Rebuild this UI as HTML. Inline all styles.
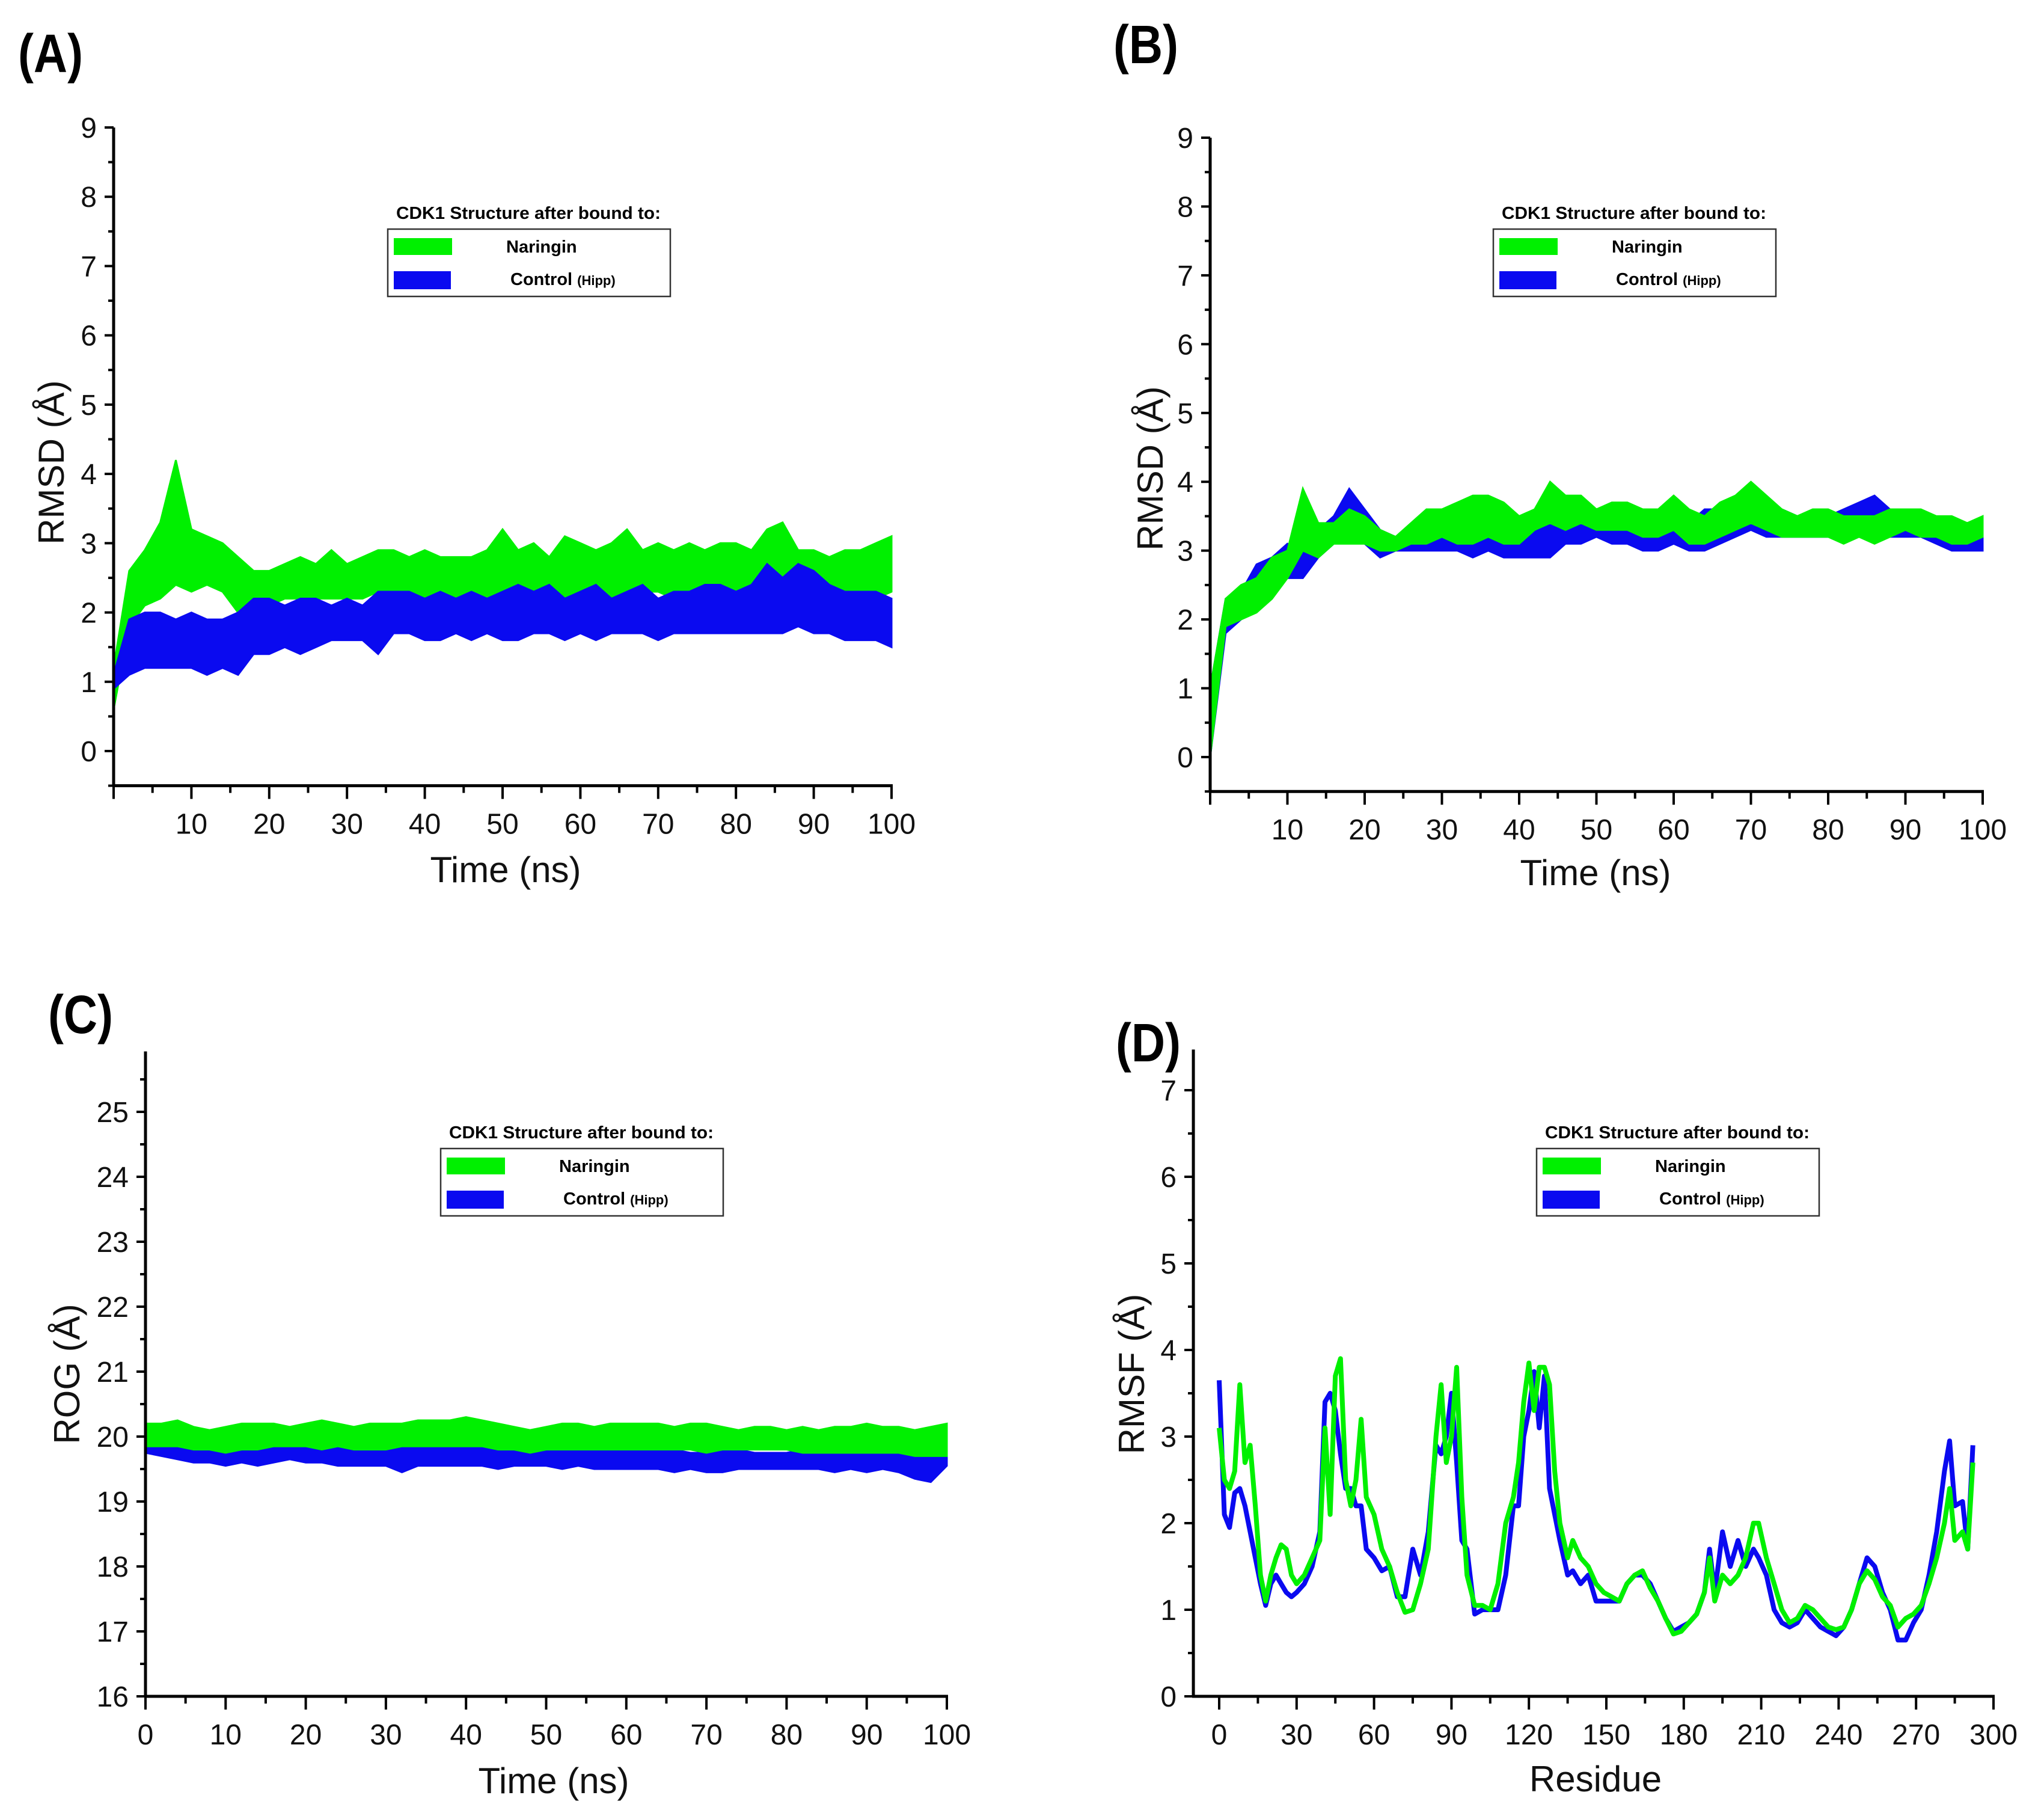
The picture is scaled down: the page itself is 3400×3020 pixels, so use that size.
<!DOCTYPE html>
<html><head><meta charset="utf-8"><style>
html,body{margin:0;padding:0;background:#fff;}
svg{display:block;font-family:"Liberation Sans",sans-serif;}
</style></head><body>
<svg id="fig" width="3400" height="3020" viewBox="0 0 3400 3020" xmlns="http://www.w3.org/2000/svg"></svg>
<script>
// ---------- Panel A data (RMSD, t = 0..100 step 2) ----------
const timeA = [0,2,4,6,8,10,12,14,16,18,20,22,24,26,28,30,32,34,36,38,40,42,44,46,48,50,52,54,56,58,60,62,64,66,68,70,72,74,76,78,80,82,84,86,88,90,92,94,96,98,100];
const narA_hi = [1.2,2.6,2.9,3.3,4.2,3.2,3.1,3.0,2.8,2.6,2.6,2.7,2.8,2.7,2.9,2.7,2.8,2.9,2.9,2.8,2.9,2.8,2.8,2.8,2.9,3.2,2.9,3.0,2.8,3.1,3.0,2.9,3.0,3.2,2.9,3.0,2.9,3.0,2.9,3.0,3.0,2.9,3.2,3.3,2.9,2.9,2.8,2.9,2.9,3.0,3.1];
const narA_lo = [0.6,1.8,2.1,2.2,2.4,2.3,2.4,2.3,2.0,2.0,2.1,2.2,2.2,2.2,2.2,2.2,2.2,2.3,2.3,2.3,2.2,2.3,2.2,2.2,2.2,2.1,2.2,2.3,2.2,2.2,2.3,2.3,2.2,2.3,2.3,2.3,2.2,2.3,2.3,2.3,2.3,2.3,2.3,2.3,2.4,2.3,2.2,2.2,2.3,2.2,2.3];
const ctlA_hi = [1.1,1.9,2.0,2.0,1.9,2.0,1.9,1.9,2.0,2.2,2.2,2.1,2.2,2.2,2.1,2.2,2.1,2.3,2.3,2.3,2.2,2.3,2.2,2.3,2.2,2.3,2.4,2.3,2.4,2.2,2.3,2.4,2.2,2.3,2.4,2.2,2.3,2.3,2.4,2.4,2.3,2.4,2.7,2.5,2.7,2.6,2.4,2.3,2.3,2.3,2.2];
const ctlA_lo = [0.9,1.1,1.2,1.2,1.2,1.2,1.1,1.2,1.1,1.4,1.4,1.5,1.4,1.5,1.6,1.6,1.6,1.4,1.7,1.7,1.6,1.6,1.7,1.6,1.7,1.6,1.6,1.7,1.7,1.6,1.7,1.6,1.7,1.7,1.7,1.6,1.7,1.7,1.7,1.7,1.7,1.7,1.7,1.7,1.8,1.7,1.7,1.6,1.6,1.6,1.5];
// ---------- Panel B data ----------
const narB_hi = [1.0,2.3,2.5,2.6,2.9,3.0,3.9,3.4,3.4,3.6,3.5,3.3,3.2,3.4,3.6,3.6,3.7,3.8,3.8,3.7,3.5,3.6,4.0,3.8,3.8,3.6,3.7,3.7,3.6,3.6,3.8,3.6,3.5,3.7,3.8,4.0,3.8,3.6,3.5,3.6,3.6,3.5,3.5,3.5,3.6,3.6,3.6,3.5,3.5,3.4,3.5];
const narB_lo = [0.0,1.9,2.0,2.1,2.3,2.6,3.0,2.9,3.1,3.1,3.1,3.0,3.0,3.1,3.1,3.2,3.1,3.1,3.2,3.1,3.1,3.3,3.4,3.3,3.4,3.3,3.3,3.3,3.2,3.2,3.3,3.1,3.1,3.2,3.3,3.4,3.3,3.2,3.2,3.2,3.2,3.1,3.2,3.1,3.2,3.3,3.2,3.2,3.1,3.1,3.2];
const ctlB_hi = [1.0,2.3,2.4,2.8,2.9,3.1,3.0,3.3,3.5,3.9,3.6,3.3,3.2,3.3,3.4,3.5,3.4,3.3,3.3,3.3,3.3,3.3,3.4,3.6,3.5,3.5,3.5,3.5,3.4,3.5,3.5,3.4,3.6,3.6,3.7,3.8,3.6,3.6,3.5,3.5,3.5,3.6,3.7,3.8,3.6,3.5,3.5,3.4,3.4,3.3,3.3];
const ctlB_lo = [0.0,1.8,2.0,2.2,2.5,2.6,2.6,2.9,3.1,3.2,3.1,2.9,3.0,3.0,3.0,3.0,3.0,2.9,3.0,2.9,2.9,2.9,2.9,3.1,3.1,3.2,3.1,3.1,3.0,3.0,3.1,3.0,3.0,3.1,3.2,3.3,3.2,3.2,3.2,3.2,3.2,3.2,3.3,3.3,3.2,3.2,3.2,3.1,3.0,3.0,3.0];
// ---------- Panel C data (ROG) ----------
const narC_hi = [20.2,20.2,20.25,20.15,20.1,20.15,20.2,20.2,20.2,20.15,20.2,20.25,20.2,20.15,20.2,20.2,20.2,20.25,20.25,20.25,20.3,20.25,20.2,20.15,20.1,20.15,20.2,20.2,20.15,20.2,20.2,20.2,20.2,20.15,20.2,20.2,20.15,20.1,20.15,20.15,20.1,20.15,20.1,20.15,20.15,20.2,20.15,20.15,20.1,20.15,20.2];
const narC_lo = [19.85,19.85,19.85,19.8,19.8,19.75,19.8,19.8,19.85,19.85,19.85,19.8,19.85,19.8,19.8,19.8,19.85,19.85,19.85,19.85,19.85,19.85,19.8,19.8,19.75,19.8,19.8,19.8,19.8,19.8,19.8,19.8,19.8,19.8,19.8,19.75,19.8,19.8,19.8,19.8,19.8,19.75,19.75,19.75,19.75,19.75,19.75,19.75,19.7,19.7,19.7];
const ctlC_hi = [19.95,19.9,19.9,19.9,19.85,19.85,19.85,19.85,19.9,19.9,19.85,19.85,19.85,19.85,19.85,19.85,19.85,19.85,19.85,19.85,19.85,19.85,19.8,19.8,19.8,19.8,19.8,19.8,19.8,19.8,19.85,19.8,19.8,19.8,19.75,19.75,19.8,19.8,19.75,19.75,19.75,19.8,19.75,19.75,19.75,19.75,19.8,19.75,19.7,19.7,19.8];
const ctlC_lo = [19.75,19.7,19.65,19.6,19.6,19.55,19.6,19.55,19.6,19.65,19.6,19.6,19.55,19.55,19.55,19.55,19.45,19.55,19.55,19.55,19.55,19.55,19.5,19.55,19.55,19.55,19.5,19.55,19.5,19.5,19.5,19.5,19.5,19.45,19.5,19.45,19.45,19.5,19.5,19.5,19.5,19.5,19.5,19.45,19.5,19.45,19.5,19.45,19.35,19.3,19.55];
// ---------- Panel D data (RMSF) ----------
const residues = [0,2,4,6,8,10,12,14,16,18,20,22,24,26,28,30,33,36,39,41,43,45,47,49,51,53,55,57,60,63,66,69,72,75,78,81,84,86,88,90,92,94,96,99,102,105,108,111,114,116,118,120,122,124,126,128,130,132,135,137,140,143,146,149,152,155,158,161,164,167,170,173,176,179,182,185,188,190,192,195,198,201,204,207,209,212,215,218,221,224,227,230,233,236,239,242,245,248,251,254,257,260,263,266,269,272,275,278,281,283,285,288,290,292];
const rmsfNar = [3.1,2.5,2.4,2.6,3.6,2.7,2.9,2.2,1.4,1.1,1.4,1.6,1.75,1.7,1.4,1.3,1.4,1.6,1.8,3.1,2.1,3.7,3.9,2.5,2.2,2.5,3.2,2.3,2.1,1.7,1.5,1.2,0.97,1.0,1.3,1.7,3.0,3.6,2.7,3.0,3.8,2.3,1.4,1.05,1.05,1.0,1.3,2.0,2.3,2.7,3.4,3.85,3.3,3.8,3.8,3.6,2.6,2.0,1.6,1.8,1.6,1.5,1.3,1.2,1.15,1.1,1.3,1.4,1.45,1.25,1.1,0.9,0.72,0.75,0.85,0.95,1.2,1.6,1.1,1.4,1.3,1.4,1.6,2.0,2.0,1.6,1.3,1.0,0.85,0.9,1.05,1.0,0.9,0.8,0.77,0.8,1.0,1.3,1.45,1.35,1.15,1.05,0.8,0.9,0.95,1.05,1.3,1.6,2.0,2.4,1.8,1.9,1.7,2.7];
const rmsfCtl = [3.65,2.1,1.95,2.35,2.4,2.2,1.9,1.6,1.3,1.05,1.3,1.4,1.3,1.2,1.15,1.2,1.3,1.5,1.9,3.4,3.5,3.3,2.8,2.4,2.4,2.2,2.2,1.7,1.6,1.45,1.5,1.15,1.15,1.7,1.4,1.9,2.9,2.8,3.0,3.5,2.7,1.8,1.7,0.95,1.0,1.0,1.0,1.4,2.2,2.2,3.0,3.3,3.75,3.1,3.7,2.4,2.1,1.8,1.4,1.45,1.3,1.4,1.1,1.1,1.1,1.1,1.3,1.4,1.4,1.3,1.1,0.9,0.75,0.8,0.85,0.95,1.2,1.7,1.2,1.9,1.5,1.8,1.5,1.7,1.6,1.4,1.0,0.85,0.8,0.85,1.0,0.9,0.8,0.75,0.7,0.8,1.0,1.3,1.6,1.5,1.2,1.0,0.65,0.65,0.85,1.0,1.4,1.9,2.6,2.95,2.2,2.25,1.7,2.9];

const yTicksRMSD = ["0","1","2","3","4","5","6","7","8","9"];
const xTicksTime = ["10","20","30","40","50","60","70","80","90","100"];
const xTicksTimeC = ["0","10","20","30","40","50","60","70","80","90","100"];
const yTicksROG = ["16","17","18","19","20","21","22","23","24","25"];
const yTicksRMSF = ["0","1","2","3","4","5","6","7"];
const xTicksRes = ["0","30","60","90","120","150","180","210","240","270","300"];

const NS = "http://www.w3.org/2000/svg";
const svg = document.getElementById('fig');
const GREEN = "#00f000", BLUE = "#0a0af0";
function mk(tag, attrs, parent){
  const e = document.createElementNS(NS, tag);
  for (const k in attrs) e.setAttribute(k, attrs[k]);
  (parent||svg).appendChild(e);
  return e;
}
function lin(a, pa, b, pb){ return v => pa + (v - a) * (pb - pa) / (b - a); }

function panel(cfg){
  const g = mk('g', {});
  
  
  const X = cfg.X, Y = cfg.Y;
  const lt = mk('text', {x: cfg.letter[0], y: cfg.letter[1], 'font-size': 90, 'font-weight': 'bold', fill: '#000', textLength: 108, lengthAdjust: 'spacingAndGlyphs'}, g);
  lt.textContent = cfg.letterText;
  
  
  const axY = Y(cfg.yMin), axX = X(cfg.xMin);
  for (let v = cfg.yMinorStart; v <= cfg.yTop + 1e-6; v += 0.5){
    const major = Math.abs(v - Math.round(v)) < 1e-6;
    const t = mk('line', {x1: axX - (major ? 15 : 9), x2: axX, y1: Y(v), y2: Y(v), stroke: '#000', 'stroke-width': 4}, g);
    
    
  }
  cfg.yLabels.forEach(s => {
    const v = parseFloat(s);
    const t = mk('text', {x: axX - 28, y: Y(v) + 17, 'font-size': 48, 'text-anchor': 'end', fill: '#111'}, g);
    t.textContent = s;
    
    
  });
  for (let v = cfg.xTickStart; v <= cfg.xMax + 1e-6; v += cfg.xMinor){
    const major = Math.abs((v / cfg.xMajor) - Math.round(v / cfg.xMajor)) < 1e-6;
    const t = mk('line', {x1: X(v), x2: X(v), y1: axY, y2: axY + (major ? 22 : 12), stroke: '#000', 'stroke-width': 4}, g);
    
    
  }
  cfg.xLabels.forEach(s => {
    const v = parseFloat(s);
    const t = mk('text', {x: X(v), y: axY + 80, 'font-size': 48, 'text-anchor': 'middle', fill: '#111'}, g);
    t.textContent = s;
    
    
  });
  cfg.draw(g);
  const ya = mk('line', {x1: axX, x2: axX, y1: axY, y2: Y(cfg.yTop), stroke: '#000', 'stroke-width': 5}, g);
  
  
  const xa = mk('line', {x1: axX - 2, x2: X(cfg.xMax) + 2, y1: axY, y2: axY, stroke: '#000', 'stroke-width': 5}, g);
  
  
  const xt = mk('text', {x: cfg.xTitle[0], y: cfg.xTitle[1], 'font-size': 60, 'text-anchor': 'middle', fill: '#111'}, g);
  xt.textContent = cfg.xTitleText;
  
  
  const yt = mk('text', {x: 0, y: 0, 'font-size': 60, 'text-anchor': 'middle', fill: '#111', transform: `translate(${cfg.yTitle[0] + 21},${cfg.yTitle[1]}) rotate(-90)`}, g);
  yt.textContent = cfg.yTitleText;
  
  
  const [lx, ly] = cfg.legend;
  const lg = mk('g', {}, g);
  
  
  const ltt = mk('text', {x: lx + 234, y: ly - 17, 'font-size': 29, 'font-weight': 'bold', 'text-anchor': 'middle', textLength: 440, lengthAdjust: 'spacingAndGlyphs'}, lg);
  ltt.textContent = 'CDK1 Structure after bound to:';
  
  
  const box = mk('rect', {x: lx, y: ly, width: 470, height: 112, fill: 'none', stroke: '#333', 'stroke-width': 2.5}, lg);
  
  
  const s1 = mk('rect', {x: lx + 10, y: ly + 15, width: 97, height: 28, fill: GREEN}, lg);
  
  
  const s2 = mk('rect', {x: lx + 10, y: ly + 70, width: 95, height: 30, fill: BLUE}, lg);
  
  
  const t1 = mk('text', {x: lx + 197, y: ly + 39, 'font-size': 29, 'font-weight': 'bold'}, lg);
  t1.textContent = 'Naringin';
  
  
  const t2 = mk('text', {x: lx + 204, y: ly + 93, 'font-size': 29, 'font-weight': 'bold'}, lg);
  t2.textContent = 'Control ';
  const sm = mk('tspan', {'font-size': 22}, t2);
  sm.textContent = '(Hipp)';
  
  
}

function band(g, X, Y, xs, hi, lo, color, name){
  let d = '';
  xs.forEach((t, i) => { d += (i ? 'L' : 'M') + X(t).toFixed(1) + ',' + Y(hi[i]).toFixed(1); });
  for (let i = xs.length - 1; i >= 0; i--) d += 'L' + X(xs[i]).toFixed(1) + ',' + Y(lo[i]).toFixed(1);
  const p = mk('path', {d: d + 'Z', fill: color, stroke: color, 'stroke-width': 3, 'stroke-linejoin': 'miter'}, g);
  
  
}
function line(g, X, Y, xs, ys, color, name){
  let d = '';
  xs.forEach((t, i) => { d += (i ? 'L' : 'M') + X(t).toFixed(1) + ',' + Y(ys[i]).toFixed(1); });
  const p = mk('path', {d: d, fill: 'none', stroke: color, 'stroke-width': 8, 'stroke-linejoin': 'round'}, g);
  
  
}

// Panel A
(function(){
  const X = lin(0, 189, 100, 1483), Y = lin(0, 1249, 9, 212);
  panel({name: 'panel-a-rmsd', X, Y, letter: [30, 120], letterText: '(A)', xMin: 0, xMax: 100, yMin: -0.5, yTop: 9, yMinorStart: -0.5,
    yLabels: yTicksRMSD, xLabels: xTicksTime, xTickStart: 0, xMinor: 5, xMajor: 10,
    xTitle: [841, 1467], xTitleText: 'Time (ns)', yTitle: [85, 769], yTitleText: 'RMSD (Å)', legend: [645, 381],
    draw: g => { band(g, X, Y, timeA, narA_hi, narA_lo, GREEN, 'naringin-band'); band(g, X, Y, timeA, ctlA_hi, ctlA_lo, BLUE, 'control-band'); }});
})();
// Panel B
(function(){
  const X = lin(0, 2013, 100, 3298), Y = lin(0, 1259, 9, 229);
  panel({name: 'panel-b-rmsd', X, Y, letter: [1852, 105], letterText: '(B)', xMin: 0, xMax: 100, yMin: -0.5, yTop: 9, yMinorStart: -0.5,
    yLabels: yTicksRMSD, xLabels: xTicksTime, xTickStart: 0, xMinor: 5, xMajor: 10,
    xTitle: [2654, 1472], xTitleText: 'Time (ns)', yTitle: [1913, 779], yTitleText: 'RMSD (Å)', legend: [2484, 381],
    draw: g => { band(g, X, Y, timeA, ctlB_hi, ctlB_lo, BLUE, 'control-band'); band(g, X, Y, timeA, narB_hi, narB_lo, GREEN, 'naringin-band'); }});
})();
// Panel C
(function(){
  const X = lin(0, 242, 100, 1575), Y = lin(16, 2821, 25, 1849);
  panel({name: 'panel-c-rog', X, Y, letter: [80, 1718], letterText: '(C)', xMin: 0, xMax: 100, yMin: 16, yTop: 25.93, yMinorStart: 16,
    yLabels: yTicksROG, xLabels: xTicksTimeC, xTickStart: 0, xMinor: 5, xMajor: 10,
    xTitle: [921, 2982], xTitleText: 'Time (ns)', yTitle: [111, 2285], yTitleText: 'ROG (Å)', legend: [733, 1910],
    draw: g => { band(g, X, Y, timeA, ctlC_hi, ctlC_lo, BLUE, 'control-band'); band(g, X, Y, timeA, narC_hi, narC_lo, GREEN, 'naringin-band'); }});
})();
// Panel D
(function(){
  const X = lin(0, 2028, 300, 3316), Y = lin(0, 2821, 7, 1813);
  panel({name: 'panel-d-rmsf', X, Y, letter: [1856, 1765], letterText: '(D)', xMin: -10, xMax: 300, yMin: 0, yTop: 7.47, yMinorStart: 0,
    yLabels: yTicksRMSF, xLabels: xTicksRes, xTickStart: 0, xMinor: 15, xMajor: 30,
    xTitle: [2654, 2979], xTitleText: 'Residue', yTitle: [1882, 2285], yTitleText: 'RMSF (Å)', legend: [2556, 1910],
    draw: g => { line(g, X, Y, residues, rmsfCtl, BLUE, 'control-line'); line(g, X, Y, residues, rmsfNar, GREEN, 'naringin-line'); }});
})();
</script>
</body></html>
